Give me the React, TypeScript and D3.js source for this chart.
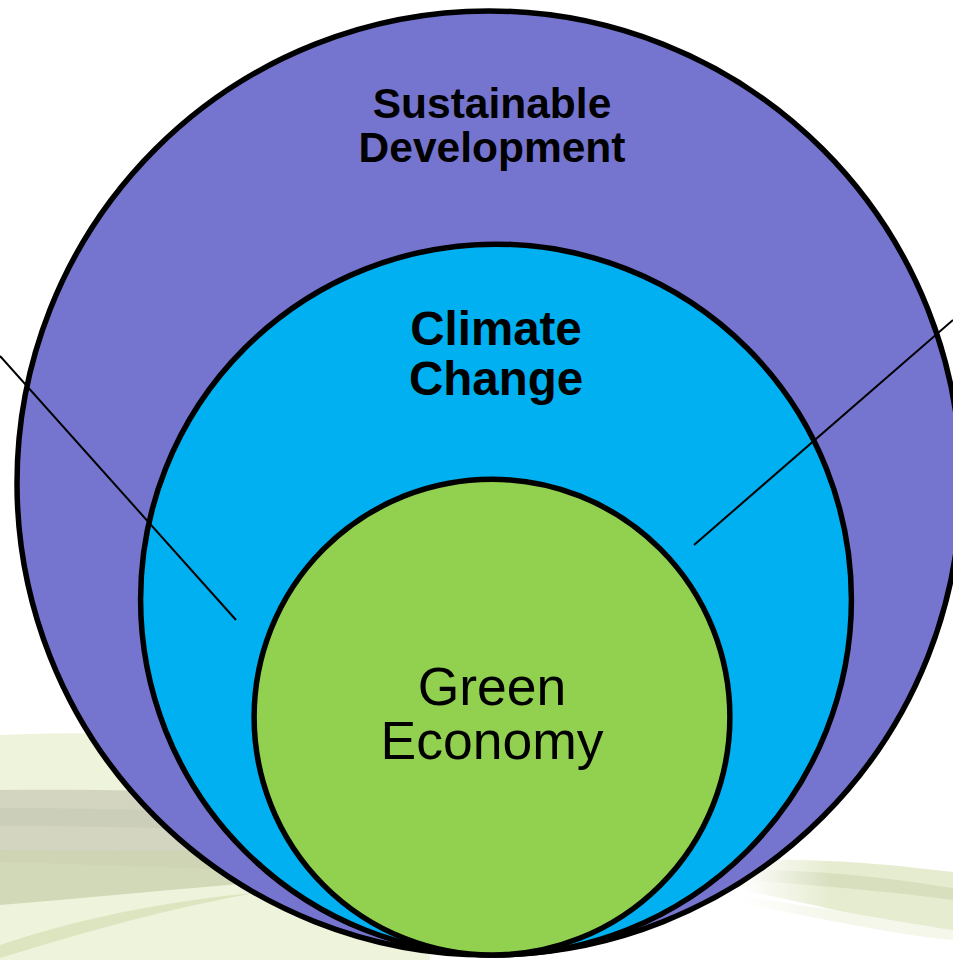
import React, { useEffect, useRef } from "react";
import * as d3 from "d3";

// the three nested circles, outermost first
const circleNames = ["Sustainable Development", "Climate Change", "Green Economy"];
const labelLines = [
    ["Sustainable", "Development"],
    ["Climate", "Change"],
    ["Green", "Economy"],
];
// relative size of each circle (outer = 100)
const relativeSize = [100, 75.3, 50.4];

const palette = ["#7575D0", "#00B0F0", "#92D050"];

const W = 953;
const H = 960;

export default function App() {
    const ref = useRef<SVGSVGElement | null>(null);

    useEffect(() => {
        const svg = d3.select(ref.current);
        svg.selectAll("*").remove();

        // fade-in mask for the right-hand streaks
        const defs = svg.append("defs");
        const grad = defs.append("linearGradient")
            .attr("id", "fadeR")
            .attr("gradientUnits", "userSpaceOnUse")
            .attr("x1", 740).attr("x2", 830).attr("y1", 0).attr("y2", 0);
        grad.append("stop").attr("offset", 0).attr("stop-color", "#000");
        grad.append("stop").attr("offset", 1).attr("stop-color", "#fff");
        defs.append("mask").attr("id", "maskR")
            .append("rect")
            .attr("x", 0).attr("y", 0).attr("width", W).attr("height", H)
            .attr("fill", "url(#fadeR)");

        // soft green streaks in the background
        const bg = svg.append("g");
        const leftSwoosh = [
            { d: "M0,735 C150,728 300,742 430,760 L430,960 L0,960 Z", fill: "#EEF3DB", op: 1 },
            { d: "M0,790 C150,788 300,796 430,806 L430,880 C300,872 150,866 0,862 Z", fill: "#CFD2BE", op: 0.9 },
            { d: "M0,808 C150,808 300,815 430,822 L430,838 C300,832 150,826 0,826 Z", fill: "#C7CAB3", op: 0.7 },
            { d: "M0,850 C150,852 300,850 430,846 L430,868 C300,878 150,892 0,905 Z", fill: "#CDD3B2", op: 0.85 },
            { d: "M0,945 C80,918 160,902 260,892 C180,906 90,930 0,958 Z", fill: "#DCE5C0", op: 1 },
        ];
        const rightSwoosh = [
            { d: "M740,860 C840,858 900,866 953,872 L953,935 C880,922 820,905 740,890 Z", fill: "#E6ECD0", op: 1 },
            { d: "M740,870 C840,870 900,880 953,888 L953,900 C890,892 830,886 740,880 Z", fill: "#D5DCBA", op: 0.8 },
            { d: "M740,896 C840,910 900,922 953,930 L953,940 C890,934 830,920 740,903 Z", fill: "#F4F7EA", op: 1 },
        ];
        bg.append("g").selectAll("path")
            .data(leftSwoosh)
            .enter()
            .append("path")
            .attr("d", d => d.d)
            .attr("fill", d => d.fill)
            .attr("opacity", d => d.op);
        bg.append("g").attr("mask", "url(#maskR)").selectAll("path")
            .data(rightSwoosh)
            .enter()
            .append("path")
            .attr("d", d => d.d)
            .attr("fill", d => d.fill)
            .attr("opacity", d => d.op);

        const r = d3.scaleLinear().domain([0, 100]).range([0, 472]);
        const centerX = [489, 496, 492];
        const baseY = 955;

        const data = circleNames.map((name, i) => ({
            name,
            lines: labelLines[i],
            size: relativeSize[i],
            color: palette[i],
            cx: centerX[i],
        }));

        const circles = svg.append("g");
        circles.selectAll("circle")
            .data(data)
            .enter()
            .append("circle")
            .attr("cx", d => d.cx)
            .attr("cy", d => baseY - r(d.size))
            .attr("r", d => r(d.size))
            .attr("fill", d => d.color)
            .attr("stroke", "#000")
            .attr("stroke-width", 5.5);

        // pointer lines (drawn under the green circle)
        const green = circles.select("circle:last-child");
        const pointers = [
            [[0, 356], [236, 620]],
            [[953, 320], [694, 545]],
        ];
        pointers.forEach(p => {
            circles.insert("line", () => green.node() as Element)
                .attr("x1", p[0][0]).attr("y1", p[0][1])
                .attr("x2", p[1][0]).attr("y2", p[1][1])
                .attr("stroke", "#000")
                .attr("stroke-width", 2);
        });

        // labels
        const labelStyle = [
            { x: 492, dy: 107, gap: 44, size: 42.5, weight: "bold" },
            { x: 496, dy: 101, gap: 50, size: 47.5, weight: "bold" },
            { x: 492, dy: 226, gap: 54, size: 53.5, weight: "normal" },
        ];
        data.forEach((d, i) => {
            const top = baseY - 2 * r(d.size);
            const s = labelStyle[i];
            const t = svg.append("text")
                .attr("text-anchor", "middle")
                .attr("font-family", "Liberation Sans, Arial, sans-serif")
                .attr("font-size", s.size)
                .attr("font-weight", s.weight)
                .attr("fill", "#000");
            d.lines.forEach((ln, j) => {
                t.append("tspan")
                    .attr("x", s.x)
                    .attr("y", top + s.dy + j * s.gap)
                    .text(ln);
            });
        });
    }, []);

    return (
        <svg
            ref={ref}
            width={W}
            height={H}
            style={{ position: "absolute", left: 0, top: 0, display: "block", background: "#fff" }}
        />
    );
}
